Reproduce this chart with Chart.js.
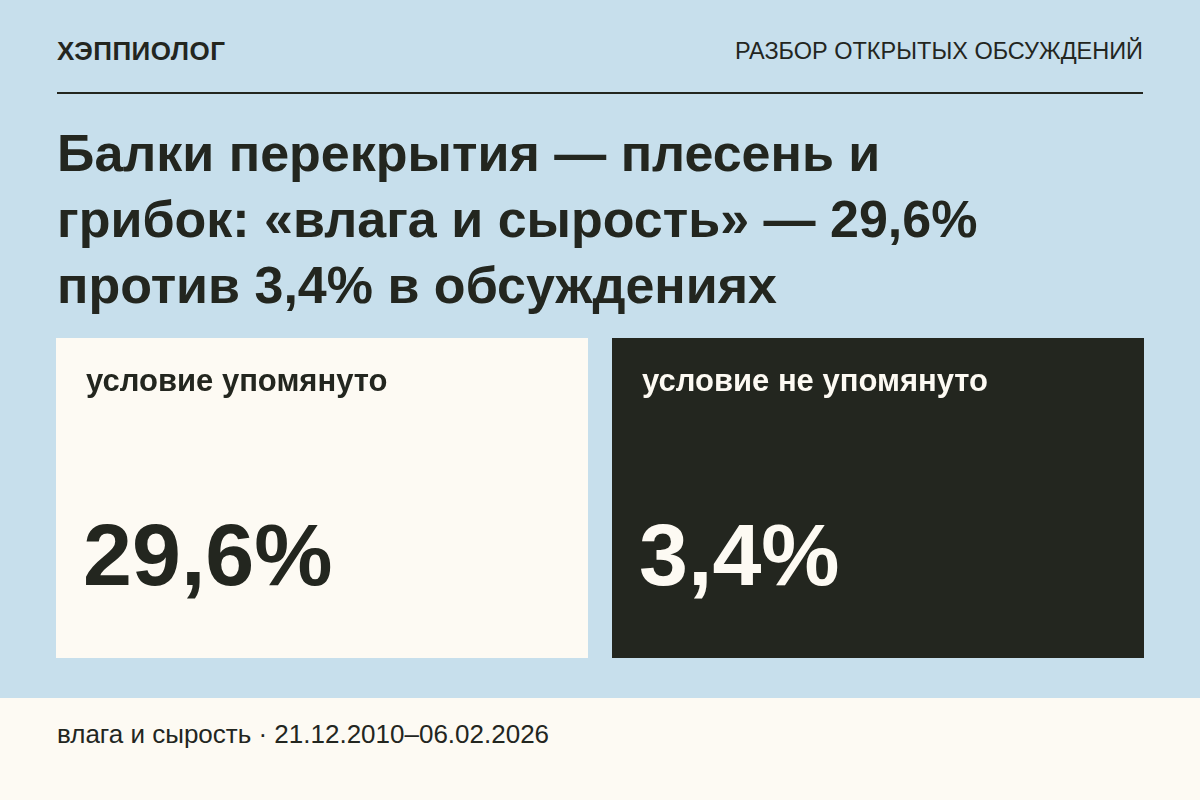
<!DOCTYPE html>
<html><head><meta charset="utf-8">
<script src="https://cdn.jsdelivr.net/npm/chart.js@4.4.1/dist/chart.umd.min.js"></script>
<style>
  body{margin:0;width:1200px;height:800px;overflow:hidden;font-family:"Liberation Sans",Arial,sans-serif;background:#c7dfec;color:#23261f;position:relative}
  .brand{position:absolute;left:57px;top:36px;font-size:26px;font-weight:bold;letter-spacing:0.5px}
  .tag{position:absolute;right:57px;top:38px;font-size:23.5px}
  .rule{position:absolute;left:57px;top:92px;width:1086px;height:2px;background:#23261f}
  h1{position:absolute;left:57px;top:120px;margin:0;font-size:52px;line-height:66px;font-weight:bold;width:1100px}
  #wrap{position:absolute;left:44px;top:338px;width:1112px;height:320px}
  .foot{position:absolute;left:0;top:698px;width:1200px;height:102px;background:#fdfaf3}
  .foot span{position:absolute;left:57px;top:21px;font-size:26px}
</style></head>
<body>
<div class="brand">ХЭППИОЛОГ</div>
<div class="tag">РАЗБОР ОТКРЫТЫХ ОБСУЖДЕНИЙ</div>
<div class="rule"></div>
<h1>Балки перекрытия — плесень и<br>грибок: «влага и сырость» — 29,6%<br>против 3,4% в обсуждениях</h1>
<div id="wrap"><canvas id="c" width="1112" height="320"></canvas></div>
<div class="foot"><span>влага и сырость · 21.12.2010–06.02.2026</span></div>
<script>
const categories = ['условие упомянуто', 'условие не упомянуто'];
const shares = [29.6, 3.4];
const cardFill = ['#fdfaf3', '#23261f'];
const textFill = ['#23261f', '#fdfaf3'];

const cards = {
  id: 'cards',
  afterDatasetsDraw(chart) {
    const ctx = chart.ctx;
    chart.getDatasetMeta(0).data.forEach((bar, i) => {
      const left = bar.x - bar.width / 2;
      ctx.save();
      ctx.fillStyle = textFill[i];
      ctx.font = 'bold 31px "Liberation Sans", Arial, sans-serif';
      ctx.textBaseline = 'alphabetic';
      ctx.fillText(categories[i], left + 30, 53);
      ctx.font = 'bold 88px "Liberation Sans", Arial, sans-serif';
      ctx.fillText(shares[i].toFixed(1).replace('.', ',') + '%', left + 27, 247);
      ctx.restore();
    });
  }
};

new Chart(document.getElementById('c'), {
  type: 'bar',
  data: {
    labels: categories,
    datasets: [{ data: categories.map(() => 1), backgroundColor: cardFill, borderWidth: 0,
      categoryPercentage: 1, barPercentage: 532 / 556 }]
  },
  options: {
    responsive: false, animation: false,
    layout: { padding: 0 },
    plugins: { legend: { display: false }, tooltip: { enabled: false } },
    scales: {
      x: { display: false, offset: true },
      y: { display: false, min: 0, max: 1 }
    }
  },
  plugins: [cards]
});
</script>
</body></html>
